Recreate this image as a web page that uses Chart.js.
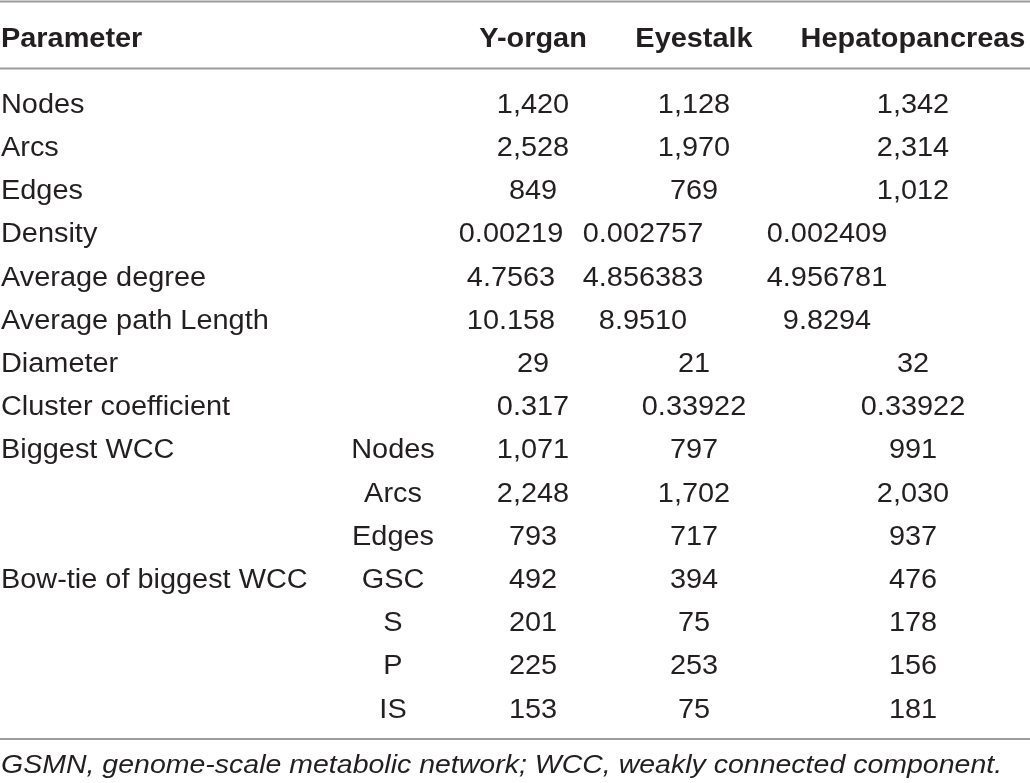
<!DOCTYPE html>
<html>
<head>
<meta charset="utf-8">
<style>
  html, body { margin: 0; padding: 0; background: #fff; }
  #wrap { width: 1030px; height: 783px; }
</style>
<script src="https://cdn.jsdelivr.net/npm/chart.js@4.4.1/dist/chart.umd.min.js"></script>
</head>
<body>
<div id="wrap"><canvas id="tbl" width="1030" height="783"></canvas></div>
<script>
const headers = ['Parameter', '', 'Y-organ', 'Eyestalk', 'Hepatopancreas'];
const params = ['Nodes', 'Arcs', 'Edges', 'Density', 'Average degree', 'Average path Length',
  'Diameter', 'Cluster coefficient', 'Biggest WCC', '', '', 'Bow-tie of biggest WCC', '', '', ''];
const subParams = ['', '', '', '', '', '', '', '', 'Nodes', 'Arcs', 'Edges', 'GSC', 'S', 'P', 'IS'];
const yOrgan = ['1,420', '2,528', '849', '0.00219', '4.7563', '10.158', '29', '0.317',
  '1,071', '2,248', '793', '492', '201', '225', '153'];
const eyestalk = ['1,128', '1,970', '769', '0.002757', '4.856383', '8.9510', '21', '0.33922',
  '797', '1,702', '717', '394', '75', '253', '75'];
const hepato = ['1,342', '2,314', '1,012', '0.002409', '4.956781', '9.8294', '32', '0.33922',
  '991', '2,030', '937', '476', '178', '156', '181'];
const footnote = 'GSMN, genome-scale metabolic network; WCC, weakly connected component.';

const rowLabels = params.map((p, i) => p || subParams[i]);
const columns = [params, subParams, yOrgan, eyestalk, hepato];

// layout of the columns on the (hidden) x axis
const colX = [1, 393, 533, 694, 913];
const shiftedRows = [3, 4, 5];           // these rows sit further left in the source
const shiftedX = [1, 393, 511, 643, 827];

const ink = '#231f20';
const rule = '#9c9c9c';
const FONT = '"Liberation Sans", Arial, Helvetica, sans-serif';

// text a bit wider than Liberation Sans, like the original face
function wideText(ctx, txt, px, py, align, stretch) {
  ctx.save();
  ctx.translate(px, py);
  ctx.scale(stretch, 1);
  ctx.textAlign = align;
  ctx.fillText(txt, 0, 0);
  ctx.restore();
}

const tablePlugin = {
  id: 'tableText',
  afterDraw(chart) {
    const ctx = chart.ctx;
    const x = chart.scales.x, y = chart.scales.y;
    ctx.save();
    // rules
    ctx.strokeStyle = rule;
    ctx.lineWidth = 2;
    [1.5, 68.5, 739].forEach(py => {
      ctx.beginPath();
      ctx.moveTo(x.getPixelForValue(0), py);
      ctx.lineTo(x.getPixelForValue(1030), py);
      ctx.stroke();
    });
    ctx.fillStyle = ink;
    ctx.textBaseline = 'alphabetic';
    // header
    ctx.font = 'bold 27px ' + FONT;
    headers.forEach((h, c) => {
      if (h) wideText(ctx, h, x.getPixelForValue(colX[c]), 47, c === 0 ? 'left' : 'center', 1.07);
    });
    // body cells
    ctx.font = '27px ' + FONT;
    columns.forEach((col, c) => {
      col.forEach((txt, r) => {
        if (!txt) return;
        const cx = shiftedRows.includes(r) ? shiftedX[c] : colX[c];
        wideText(ctx, txt, x.getPixelForValue(cx), y.getPixelForValue(r) + 9.7,
          c === 0 ? 'left' : 'center', 1.07);
      });
    });
    // footnote
    ctx.font = 'italic 25px ' + FONT;
    wideText(ctx, footnote, x.getPixelForValue(1), 773, 'left', 1.14);
    ctx.restore();
  }
};

const table = new Chart(document.getElementById('tbl'), {
  type: 'scatter',
  data: {
    labels: rowLabels,
    datasets: [{ data: [], pointRadius: 0 }]
  },
  options: {
    responsive: false,
    animation: false,
    layout: { padding: { top: 81.5, bottom: 53.5, left: 0, right: 0 } },
    plugins: { legend: { display: false }, tooltip: { enabled: false } },
    scales: {
      x: { type: 'linear', min: 0, max: 1030, display: false },
      y: { type: 'category', labels: rowLabels, offset: true, display: false }
    }
  },
  plugins: [tablePlugin]
});
</script>
</body>
</html>
